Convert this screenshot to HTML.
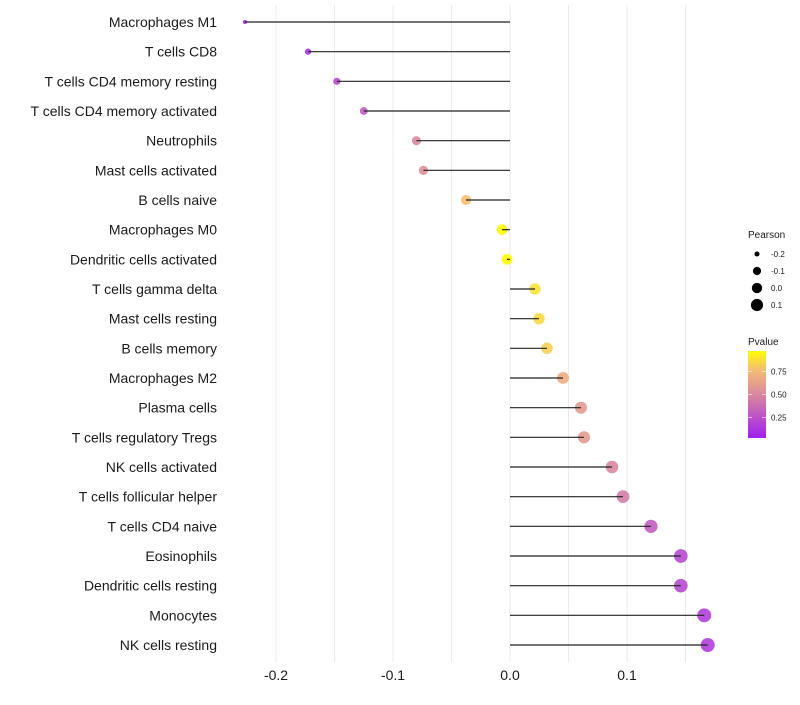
<!DOCTYPE html>
<html><head><meta charset="utf-8"><style>
body{margin:0;background:#fff;font-family:"Liberation Sans",sans-serif}
svg text{font-family:"Liberation Sans",sans-serif}
</style></head><body>
<svg id="chart" width="800" height="700"></svg>
<script>
const categories=["Macrophages M1","T cells CD8","T cells CD4 memory resting","T cells CD4 memory activated","Neutrophils","Mast cells activated","B cells naive","Macrophages M0","Dendritic cells activated","T cells gamma delta","Mast cells resting","B cells memory","Macrophages M2","Plasma cells","T cells regulatory  Tregs ","NK cells activated","T cells follicular helper","T cells CD4 naive","Eosinophils","Dendritic cells resting","Monocytes","NK cells resting"];
const pearson=[-0.2265,-0.1726,-0.148,-0.125,-0.080,-0.074,-0.0376,-0.0068,-0.0026,0.0214,0.0248,0.0316,0.0453,0.0607,0.0632,0.0872,0.0966,0.1205,0.146,0.146,0.166,0.169];
const pvalue=[0.01,0.1,0.2,0.3,0.5,0.55,0.8,0.98,0.99,0.9,0.88,0.85,0.7,0.6,0.6,0.5,0.45,0.3,0.2,0.2,0.15,0.15];
const xTicks=[-0.2,-0.1,0.0,0.1];
const xTickLabels=["-0.2","-0.1","0.0","0.1"];
const sizeLegend=[-0.2,-0.1,0.0,0.1];
const pLegendTicks=[0.75,0.50,0.25];

const NS="http://www.w3.org/2000/svg";
const svg=document.getElementById('chart');
function xs(v){return 510+v*1170;}
function ys(i){return 22+i*(623/(categories.length-1));}
function rs(v){return Math.sqrt(Math.max(2.5,29.8+113.8*v));}
const stops=[[0,[160,32,240]],[0.5,[217,136,159]],[0.8,[245,192,112]],[1,[255,255,0]]];
function col(p){for(let k=1;k<stops.length;k++){if(p<=stops[k][0]){const a=stops[k-1],b=stops[k];const t=(p-a[0])/(b[0]-a[0]);const c=a[1].map((x,j)=>Math.round(x+(b[1][j]-x)*t));return `rgb(${c})`;}}return 'rgb(255,255,0)';}
function mk(tag,attrs,parent){const e=document.createElementNS(NS,tag);for(const k in attrs)e.setAttribute(k,attrs[k]);(parent||svg).appendChild(e);return e;}

for(let v=-0.2;v<=0.151;v+=0.05){
  const g=mk('line',{x1:xs(v),x2:xs(v),y1:5,y2:662,stroke:'#ebebeb','stroke-width':1});
  
  
}
xTicks.forEach((v,i)=>{
  const t=mk('text',{x:xs(v),y:680,'text-anchor':'middle','font-size':14,fill:'#1a1a1a'});
  t.textContent=xTickLabels[i];
  
  
});
categories.forEach((c,i)=>{
  const y=ys(i);
  const t=mk('text',{x:217,y:y+5,'text-anchor':'end','font-size':14,fill:'#1a1a1a'});
  t.textContent=c;
  
  
  const d=mk('circle',{cx:xs(pearson[i]),cy:y,r:rs(pearson[i]),fill:col(pvalue[i]),'fill-opacity':0.9});
  
  
  const l=mk('line',{x1:xs(0),x2:xs(pearson[i]),y1:y,y2:y,stroke:'#222','stroke-width':1.2});
  
  
});
const lt=mk('text',{x:748,y:238,'font-size':10,fill:'#1a1a1a'});lt.textContent='Pearson';


sizeLegend.forEach((v,i)=>{
  const y=254+i*17;
  const c=mk('circle',{cx:757,cy:y,r:rs(v)*0.95,fill:'#000'});
  
  
  const t=mk('text',{x:771,y:y+3,'font-size':8,fill:'#1a1a1a'});t.textContent=v.toFixed(1);
  
  
});
const pt=mk('text',{x:748,y:345,'font-size':10,fill:'#1a1a1a'});pt.textContent='Pvalue';


const defs=mk('defs',{});
const lg=mk('linearGradient',{id:'pg',x1:0,y1:1,x2:0,y2:0},defs);
stops.forEach(s=>mk('stop',{offset:s[0],'stop-color':`rgb(${s[1]})`},lg));
const bar=mk('rect',{x:748,y:351,width:18,height:87,fill:'url(#pg)'});


pLegendTicks.forEach(p=>{
  const y=438-(p-0.03)/0.94*87;
  mk('line',{x1:748,x2:752,y1:y,y2:y,stroke:'#fff','stroke-width':0.6});
  mk('line',{x1:762,x2:766,y1:y,y2:y,stroke:'#fff','stroke-width':0.6});
  const t=mk('text',{x:771,y:y+3,'font-size':8,fill:'#1a1a1a'});t.textContent=p.toFixed(2);
  
  
});
</script>
</body></html>
